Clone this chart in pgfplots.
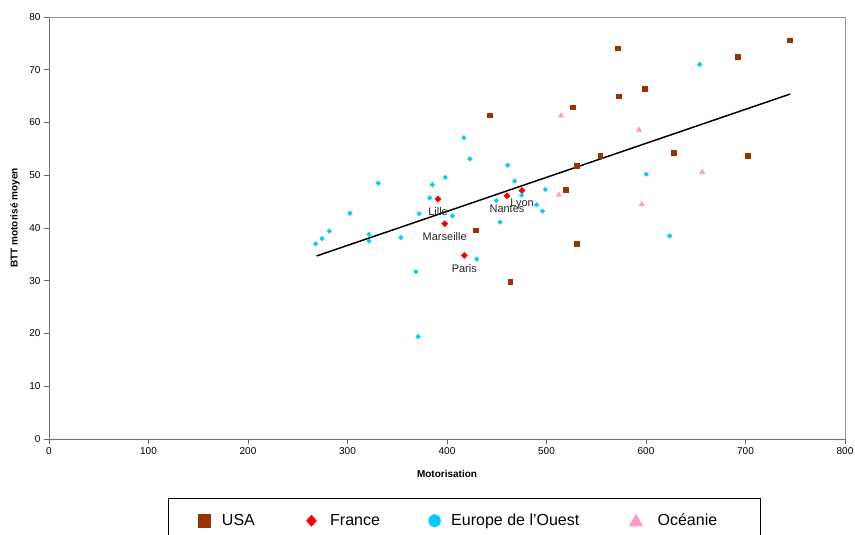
\documentclass[border=0pt]{standalone}
\usepackage{pgfplots}
\pgfplotsset{compat=1.18}
\usepackage{fontspec}
\setmainfont{Liberation Sans}
\definecolor{usab}{HTML}{993300}
\definecolor{frr}{HTML}{FF0000}
\definecolor{euc}{HTML}{00CCFF}
\definecolor{ocp}{HTML}{FF99CC}
\begin{document}
\begin{tikzpicture}
\begin{axis}[
  at={(49pt,96pt)}, anchor=south west,
  scale only axis, width=796pt, height=422pt,
  xmin=0, xmax=800, ymin=0, ymax=80,
  xtick distance=100, ytick distance=10,
  axis lines=left, axis line style={draw=black!55, line width=0.9pt, -},
  tick align=outside, major tick length=5pt,
  tick style={draw=black!60, line width=0.8pt},
  minor tick num=0,
  /pgf/number format/assume math mode=true,
  tick label style={font=\fontsize{10}{12}\selectfont},
  xlabel={\textbf{Motorisation}},
  ylabel={\textbf{BTT motorisé moyen}},
  label style={font=\fontsize{10}{12}\selectfont},
  xlabel style={at={(axis description cs:0.5,-0.083)}, anchor=center},
  ylabel style={at={(axis description cs:-0.0427,0.524)}, anchor=center},
  clip=false,
  legend columns=4,
  legend style={at={(axis description cs:0.1495,-0.1398)}, anchor=north west,
    draw=black, line width=1.3pt, inner xsep=0pt, inner ysep=9.5pt,
    font=\fontsize{16}{19}\selectfont,
    nodes={inner sep=2pt},
    /tikz/column sep=0pt},
]
\draw[black!40, line width=0.9pt] (rel axis cs:0,1) -- (rel axis cs:1,1) -- (rel axis cs:1,0);

\addplot[only marks, mark=square*, mark size=2.4pt, mark options={draw=usab, fill=usab},
  legend image code/.code={\path (-35pt,-12pt) (15pt,12pt); \fill[usab] (-6pt,-6.5pt) rectangle (6pt,6.5pt);}]
coordinates {
(443,61.4) (428.5,39.6) (463.6,29.8) (519,47.2) (526.3,62.9) (530,51.8) (530.7,37.0)
(554,53.7) (571.2,74.1) (572.2,65.0) (598.7,66.4) (627.8,54.3) (691.8,72.4) (702.2,53.7) (744.4,75.6)
};
\addlegendentry{USA}

\addplot[only marks, mark=square*, mark size=2.2pt, mark options={rotate=45, draw=frr, fill=frr},
  point meta=explicit symbolic, nodes near coords,
  every node near coord/.append style={anchor=center, yshift=-13pt, font=\fontsize{11}{13}\selectfont, text=black!85},
  legend image code/.code={\path (-54pt,-12pt) (16pt,12pt); \fill[frr] (0,5pt) -- (4.5pt,0) -- (0,-5pt) -- (-4.5pt,0) -- cycle;}]
table[meta=label] {
x y label
391 45.5 Lille
397.7 40.8 Marseille
417.4 34.8 Paris
460.3 46.1 Nantes
475.4 47.1 Lyon
};
\addlegendentry{France}

\addplot[only marks, mark=square*, mark size=1.6pt, mark options={rotate=45, draw=euc, fill=euc},
  legend image code/.code={\path (-52pt,-12pt) (14pt,12pt); \fill[euc] (0,0) ellipse [x radius=5.5pt, y radius=6pt];}]
coordinates {
(268,37.0) (274.4,38.0) (281.7,39.4) (302.5,42.8) (321.6,38.8) (321.6,37.5) (331,48.5)
(353.6,38.2) (368.7,31.7) (370.9,19.4) (372,42.7) (382.6,45.7) (385.2,48.2) (398.3,49.6)
(405.4,42.3) (417,57.1) (423,53.1) (430,34.1) (449.6,45.2) (453.3,41.1) (461,51.9)
(468,48.9) (475,46.2) (490,44.4) (496,43.2) (498.8,47.3) (600.3,50.2) (623.8,38.5) (654,71.0)
};
\addlegendentry{Europe de l’Ouest}

\addplot[only marks, mark=triangle*, mark size=3pt, mark options={draw=ocp, fill=ocp},
  legend image code/.code={\path (-54pt,-12pt) (19pt,12pt); \fill[ocp] (-6pt,-5pt) -- (6pt,-5pt) -- (0,6pt) -- cycle;}]
coordinates {
(512.4,46.3) (514.6,61.3) (593,58.6) (595.7,44.5) (656.6,50.6)
};
\addlegendentry{\makebox[101pt][l]{Océanie}}

\addplot[black, line width=1.5pt, forget plot] coordinates {(269,34.7) (745,65.4)};
\end{axis}
\pgfresetboundingbox
\path[use as bounding box] (0,0) rectangle (855pt,535pt);
\end{tikzpicture}
\end{document}
